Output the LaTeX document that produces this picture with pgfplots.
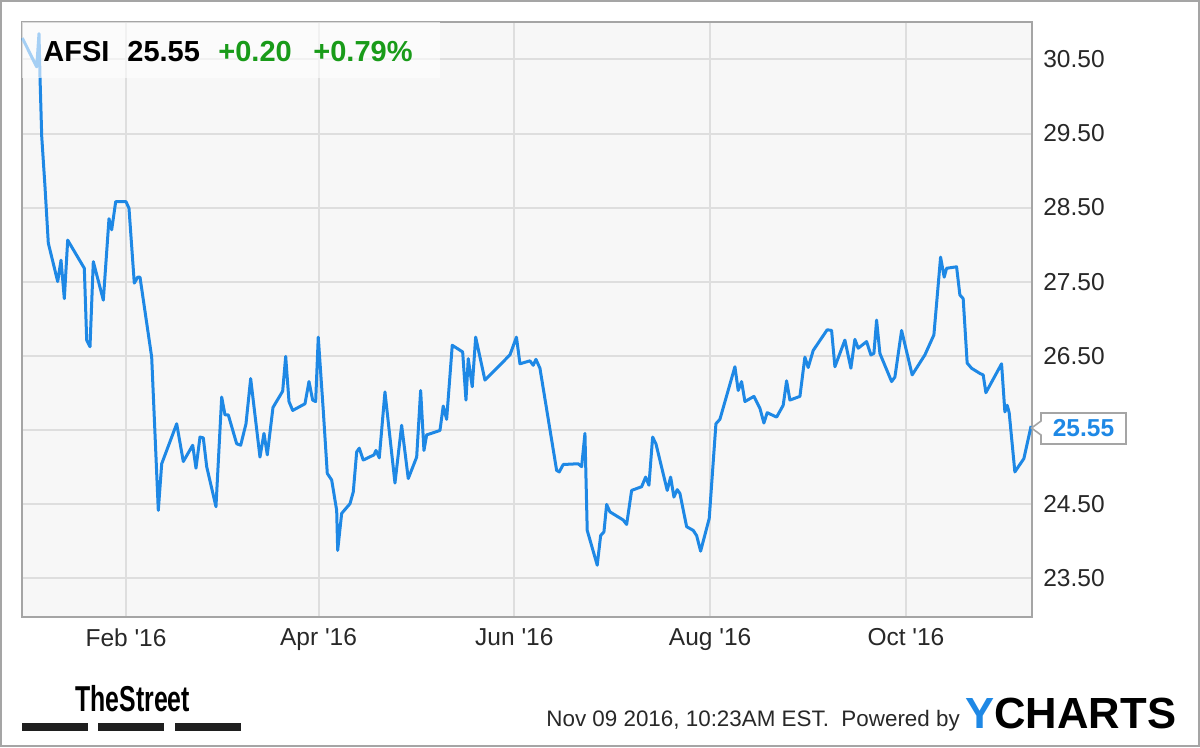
\documentclass[border=0pt]{standalone}
\usepackage{pgfplots}
\pgfplotsset{compat=1.18}
\usepackage{graphicx}
\usepackage{fontspec}
\setmainfont{Liberation Sans}
\definecolor{lineblue}{RGB}{30,136,229}
\definecolor{upgreen}{RGB}{25,155,25}
\definecolor{plotbg}{RGB}{247,247,247}
\definecolor{gridc}{RGB}{222,222,222}
\definecolor{borderc}{RGB}{165,165,165}
\definecolor{txt}{RGB}{40,40,40}
\begin{document}
\begin{tikzpicture}
\begin{scope}[x=0.5bp,y=-0.5bp]
\useasboundingbox (0,0) rectangle (1200,747);
\fill[white] (0,0) rectangle (1200,747);
\end{scope}
\begin{axis}[
  at={(10.85bp,-308.5bp)}, anchor=south west,
  scale only axis, width=505bp, height=297.65bp,
  xmin=-1.5, xmax=313.2, ymin=22.97, ymax=31.01,
  axis background/.style={fill=plotbg},
  axis line style={draw=borderc, line width=0.9bp},
  xtick={31,91,152,213,274},
  xticklabels={Feb \textquotesingle16, Apr \textquotesingle16, Jun \textquotesingle16, Aug \textquotesingle16, Oct \textquotesingle16},
  ytick={23.5,24.5,25.5,26.5,27.5,28.5,29.5,30.5},
  yticklabels={23.50,24.50,,26.50,27.50,28.50,29.50,30.50},
  yticklabel pos=right,
  major tick length=0pt,
  tick style={draw=none},
  grid=major,
  major grid style={draw=gridc, line width=1bp},
  xticklabel style={anchor=north, inner sep=0pt, yshift=-5.5bp, font=\fontsize{12.25bp}{14bp}\selectfont, text=txt},
  yticklabel style={anchor=west, inner sep=0pt, xshift=5.6bp, font=\fontsize{12.25bp}{14bp}\selectfont, text=txt},
]
\addplot[color=lineblue, line width=1.5bp, line join=round, no marks] coordinates {
(-1.31,30.79) (3.18,30.40) (3.89,30.85) (4.21,30.25) (4.74,29.46) (5.76,28.78) (6.79,28.02)
(9.72,27.50) (10.75,27.79) (11.78,27.27) (12.83,28.06) (18.01,27.68) (18.75,26.71) (19.78,26.62)
(20.81,27.77) (23.93,27.25) (25.70,28.35) (26.54,28.20) (27.79,28.58) (31.00,28.58) (31.93,28.49)
(33.58,27.48) (34.64,27.56) (35.36,27.56) (39.00,26.48) (41.06,24.41) (42.12,25.04) (46.79,25.58)
(48.85,25.07) (51.78,25.29) (52.80,24.98) (54.05,25.40) (55.08,25.39) (56.14,25.00) (59.03,24.46)
(60.81,25.94) (61.84,25.70) (62.87,25.70) (65.48,25.31) (66.73,25.29) (68.38,25.58) (69.84,26.19)
(72.74,25.13) (73.99,25.45) (75.02,25.16) (76.79,25.80) (79.81,26.02) (80.75,26.49) (81.78,25.88)
(82.93,25.76) (86.76,25.85) (88.01,26.15) (89.16,25.90) (90.09,25.88) (90.90,26.75) (92.46,25.76)
(93.71,24.91) (95.08,24.82) (96.64,24.41) (96.95,23.87) (98.19,24.37) (100.78,24.50) (101.81,24.66)
(102.87,25.20) (103.68,25.25) (104.92,25.09) (108.26,25.16) (108.88,25.22) (109.91,25.12) (111.68,26.01)
(114.80,24.78) (116.88,25.56) (118.94,24.84) (121.56,25.13) (122.80,26.03) (123.83,25.22) (124.67,25.43)
(128.82,25.49) (129.84,25.82) (130.90,25.64) (132.65,26.64) (135.89,26.55) (136.92,25.90) (137.63,26.46)
(138.88,26.08) (139.94,26.75) (142.83,26.17) (150.62,26.51) (152.65,26.75) (153.74,26.39) (156.85,26.43)
(157.88,26.37) (158.72,26.45) (159.97,26.33) (165.17,24.95) (165.98,24.93) (167.23,25.03) (171.90,25.04)
(172.96,25.00) (173.99,25.45) (174.70,24.14) (177.82,23.67) (178.88,24.07) (179.91,24.12) (180.75,24.49)
(181.78,24.39) (185.92,24.28) (186.98,24.22) (188.54,24.68) (191.65,24.73) (192.90,24.86) (193.93,24.75)
(195.08,25.40) (196.11,25.31) (199.63,24.68) (200.69,24.86) (201.71,24.59) (202.74,24.69) (203.58,24.64)
(205.67,24.19) (207.73,24.14) (208.79,24.07) (210.03,23.86) (212.71,24.30) (214.80,25.58) (216.04,25.64)
(220.72,26.35) (221.74,26.03) (222.80,26.15) (223.83,25.88) (226.64,25.95) (228.50,25.79) (229.75,25.59)
(230.78,25.73) (233.71,25.67) (235.76,25.83) (236.82,26.16) (237.85,25.90) (240.97,25.95) (242.52,26.48)
(243.55,26.34) (245.11,26.57) (249.47,26.85) (250.84,26.84) (251.87,26.35) (254.98,26.71) (256.85,26.33)
(258.10,26.72) (259.13,26.60) (261.74,26.69) (263.08,26.51) (264.02,26.53) (264.86,26.98) (265.89,26.53)
(269.53,26.15) (270.56,26.21) (272.65,26.84) (275.95,26.24) (279.91,26.51) (282.71,26.78) (284.80,27.83)
(285.92,27.56) (286.67,27.68) (289.78,27.70) (290.81,27.32) (291.84,27.27) (293.08,26.40) (294.45,26.33)
(297.04,26.26) (298.07,26.24) (298.91,26.00) (303.80,26.39) (304.83,25.74) (305.55,25.83) (306.17,25.73)
(307.94,24.93) (310.75,25.11) (313.00,25.55)
};
\end{axis}
\begin{scope}[x=0.5bp,y=-0.5bp]
% outer frame
\draw[borderc, line width=1bp] (1,1) rectangle (1199,746);
% header box
\fill[white, opacity=0.6] (22.2,22.2) rectangle (440,78);
\node[anchor=base west, inner sep=0pt, font=\fontsize{14.5bp}{17bp}\selectfont\bfseries, text=black] at (43,61) {AFSI};
\node[anchor=base west, inner sep=0pt, font=\fontsize{14.5bp}{17bp}\selectfont\bfseries, text=black] at (127,61) {25.55};
\node[anchor=base west, inner sep=0pt, font=\fontsize{14.5bp}{17bp}\selectfont\bfseries, text=upgreen] at (218,61) {+0.20};
\node[anchor=base west, inner sep=0pt, font=\fontsize{14.5bp}{17bp}\selectfont\bfseries, text=upgreen] at (313,61) {+0.79\%};
% callout
\filldraw[fill=white, draw=borderc, line width=0.8bp] (1031.5,428) -- (1041,421) -- (1041,413) -- (1126,413) -- (1126,444) -- (1041,444) -- (1041,435) -- cycle;
\node[anchor=center, inner sep=0pt, font=\fontsize{12.25bp}{14bp}\selectfont\bfseries, text=lineblue] at (1083.5,428.5) {25.55};
% footer
\node[anchor=base west, inner sep=0pt, font=\fontsize{11.2bp}{13bp}\selectfont, text=txt] at (546,726) {Nov 09 2016, 10:23AM EST.\ \ Powered by};
\node[anchor=base west, inner sep=0pt, font=\fontsize{21.8bp}{25bp}\selectfont\bfseries] at (965,728) {\textcolor{lineblue}{Y}\textcolor{black}{CHARTS}};
\node[anchor=base west, inner sep=0pt, font=\fontsize{18bp}{21bp}\selectfont\bfseries, text=black] at (75,711) {\scalebox{0.69}[1]{TheStreet}};
\fill[black!88] (22,723) rectangle (88,731);
\fill[black!88] (98,723) rectangle (164,731);
\fill[black!88] (175,723) rectangle (241,731);
\end{scope}
\end{tikzpicture}
\end{document}
